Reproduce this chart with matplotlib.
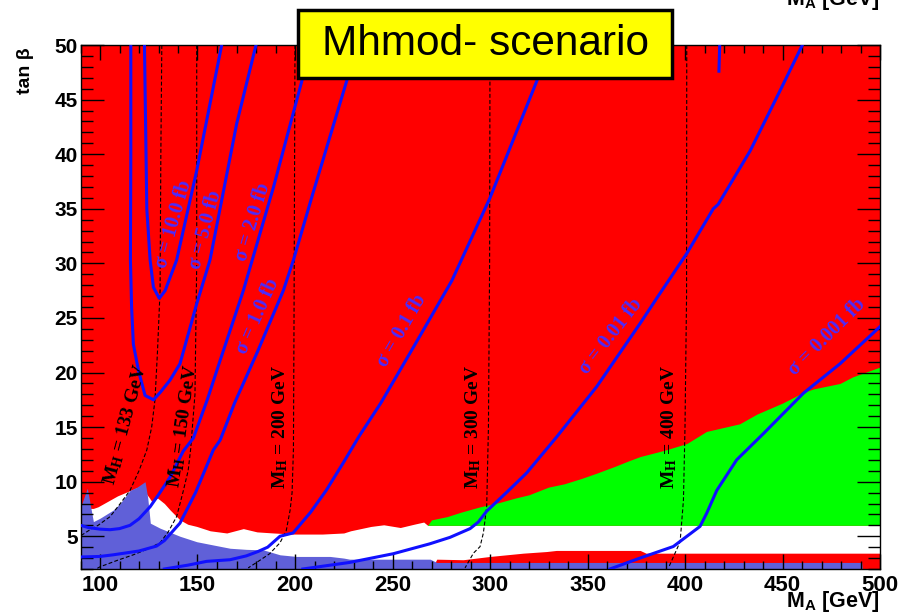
import matplotlib.pyplot as plt
from matplotlib.patches import Rectangle
from matplotlib.ticker import MultipleLocator

plt.rcParams['font.family'] = ['Liberation Sans', 'DejaVu Sans']
plt.rcParams['font.weight'] = 'bold'
plt.rcParams['mathtext.fontset'] = 'custom'
plt.rcParams['mathtext.rm'] = 'Liberation Serif:bold'
plt.rcParams['mathtext.sf'] = 'Liberation Sans:bold'

# --- excluded regions (upper edges, filled down to the axis bottom) ---
white_x = [90, 96.6, 99, 104, 109, 113, 117, 119.5, 122, 125, 126.5, 129.5, 133, 136, 141, 145,
           149.6, 156.5, 165, 173.5, 180.5, 189, 199, 214, 225, 228.5, 239, 245.5, 254, 261, 266, 268, 500]
white_y = [7.55, 7.55, 7.7, 8.2, 8.7, 9.0, 9.3, 9.5, 9.3, 8.6, 8.2, 8.5, 8.0, 7.4, 6.5, 6.1,
           5.9, 5.5, 5.3, 5.7, 5.4, 5.3, 5.2, 5.2, 5.3, 5.5, 5.9, 6.05, 5.8, 6.1, 6.3, 6.0, 6.0]

green_x = [268, 270, 278, 285, 295, 305, 313, 320, 330, 338, 347, 355, 364, 371, 377, 390, 401,
           411, 428, 437, 450, 461, 466, 479.5, 486, 500]
green_y = [6.0, 6.5, 6.8, 7.2, 7.7, 8.1, 8.5, 8.8, 9.5, 9.8, 10.3, 10.8, 11.4, 11.9, 12.3, 12.9, 13.5,
           14.6, 15.3, 16.2, 17.2, 18.2, 18.5, 19.0, 19.6, 20.5]
green_low = 6.0

red_low_x = [270, 272.7, 286.3, 300, 317, 329, 334, 377, 380, 500]
red_low_y = [2.0, 2.9, 2.85, 3.15, 3.45, 3.6, 3.7, 3.7, 3.45, 3.45]

blue_x = [90, 90.8, 93.5, 96.6, 100, 106.8, 110.3, 115.4, 119, 123.1, 124.5, 125.8, 130.8, 141,
          149.6, 158.1, 166.7, 175, 183.8, 192.3, 200.9, 218, 225, 228, 269.3, 272.7, 490.6, 491]
blue_y = [7.8, 8.05, 9.4, 6.34, 6.65, 7.4, 8.0, 9.2, 9.5, 10.0, 8.5, 6.2, 5.74, 5.0,
          4.5, 4.2, 3.9, 3.8, 3.75, 3.3, 3.15, 3.15, 3.0, 2.9, 2.9, 2.6, 2.6, 2.0]

# --- cross-section contours ---
sig_names = ['10.0', '5.0', '2.0', '1.0', '0.1', '0.01', '0.001']
sig_x = [
    [122.8, 123.2, 124.0, 125.7, 127.4, 130.4, 133.4, 139.3, 149.6, 162.4],
    [115.8, 115.8, 115.6, 116.2, 117.1, 119.7, 123.1, 127.4, 131, 135.9, 141, 149.6, 156.4, 170.1, 180],
    [90, 94, 100, 105.2, 110, 115.4, 120, 125.7, 130, 135.9, 142.7, 147.9, 155, 161.6, 167, 173.5,
     189, 203.5, 208.5],
    [90, 100, 106.8, 120, 129, 133, 136, 141, 149, 158.1, 161.6, 169, 181, 194, 199.2, 209, 226.5, 232],
    [133, 145, 154.7, 166.7, 175, 181, 186, 192.3, 199, 208, 216, 225, 233, 244, 261, 280.4, 300, 324, 331],
    [204, 228, 250.4, 269, 279.5, 289.8, 294, 298.3, 309, 318.8, 334.2, 354.7, 377, 385.5, 400.9,
     414.5, 417, 433.4, 448.7, 460.2],
    [361.5, 376.9, 394, 407.7, 411.1, 416.3, 426.5, 440.2, 460.7, 479.5, 500],
]
sig_y = [
    [50, 45, 35, 30.3, 27.8, 26.8, 27.5, 30.3, 38.5, 50],
    [50, 40, 30.3, 26, 22.6, 20.2, 17.9, 17.5, 18.2, 19.3, 20.8, 26.3, 30.3, 42.8, 50],
    [6.0, 5.8, 5.65, 5.6, 5.7, 6.0, 6.6, 7.7, 8.8, 10.4, 12.8, 14.0, 17.5, 21.1, 24, 27.5, 37, 46.7, 50],
    [3.1, 3.15, 3.3, 3.65, 4.1, 4.6, 5.2, 6.2, 9.0, 12.9, 13.8, 17.2, 22.0, 27.5, 30.3, 36.3, 46.7, 50],
    [2.0, 2.35, 2.7, 2.85, 3.2, 3.6, 4.0, 5.0, 5.3, 7.2, 9.2, 11.8, 14.2, 17.2, 22.4, 28.4, 36.0, 46.7, 50],
    [2.0, 2.6, 3.4, 4.3, 4.9, 5.7, 6.3, 7.3, 9.1, 10.8, 14.1, 18.7, 24.5, 26.8, 30.9, 35.0, 35.4,
     40.3, 45.8, 50],
    [2.0, 3.0, 4.06, 5.9, 7.1, 9.2, 12.0, 14.4, 18.1, 20.8, 24.2],
]
sig_lab_x = [137.6, 154.3, 178.6, 180.8, 254.7, 362, 472.7]
sig_lab_y = [33.55, 33.1, 33.8, 25.2, 23.8, 23.3, 23.25]
sig_lab_rot = [74, 75, 73, 66, 60, 52, 45]

# --- M_H iso-lines ---
mh_names = ['133', '150', '200', '300', '400']
mh_x = [
    [131.7, 131.2, 130.8, 129.5, 128.2, 126.5, 124, 120, 115.4, 110, 105.2, 99, 94.9, 90.6, 90],
    [149.6, 149.6, 148.7, 146.5, 145.2, 142.5, 139.3, 135, 130.8, 124, 117.1, 109, 100, 98],
    [200, 199.5, 199.2, 198.5, 197.5, 195.5, 192.3, 187, 182, 176],
    [300, 299.8, 299.2, 298.3, 296.6, 294.9, 291.5, 287.2],
    [400.9, 400.8, 400, 399.2, 397.5, 394.9, 391.5],
]
mh_y = [
    [50, 40, 27.5, 22, 17.5, 15, 12.9, 11, 9.2, 7.9, 6.8, 6.0, 5.6, 5.1, 4.95],
    [50, 30, 18, 13, 11, 9, 6.8, 5.4, 4.4, 3.8, 3.3, 2.8, 2.2, 2.0],
    [50, 25, 13, 9, 7.4, 5.5, 4.4, 3.4, 2.8, 2.1],
    [50, 30, 15, 7.7, 5.3, 4.05, 3.45, 2.1],
    [50, 27, 15, 8.3, 4.5, 3.45, 2.1],
]
mh_lab_x = [113.3, 142.6, 192.3, 291.5, 392]
mh_lab_y = [15.2, 15.1, 15.0, 15.0, 15.0]
mh_lab_rot = [75, 82, 90, 90, 90]

fig = plt.figure(figsize=(9.01, 6.16), dpi=100)
ax = fig.add_axes([80.5 / 901, 47 / 616, 799.5 / 901, 524 / 616])
ax.set_xlim(90, 500)
ax.set_ylim(2, 50)
ax.set_facecolor('#ff0000')
ax.set_axisbelow(False)

ax.fill_between(white_x, 2, white_y, color='white', lw=0, zorder=1)
ax.fill_between(green_x, green_low, green_y, color='#00ff00', lw=0, zorder=1.1)
ax.fill_between(red_low_x, 2, red_low_y, color='#ff0000', lw=0, zorder=1.2)
ax.fill_between(blue_x, 2, blue_y, color='#6060d8', lw=0, zorder=1.3)

for i in range(len(mh_names)):
    ax.plot(mh_x[i], mh_y[i], color='black', lw=0.8, dashes=(3.5, 2), zorder=2)
    ax.text(mh_lab_x[i], mh_lab_y[i], r'$\mathrm{M_H}$ = ' + mh_names[i] + ' GeV',
            family='Liberation Serif', weight='bold', fontsize=14, color='black',
            rotation=mh_lab_rot[i], rotation_mode='anchor', ha='center', va='center', zorder=4)

for i in range(len(sig_names)):
    ax.plot(sig_x[i], sig_y[i], color='#1010ff', lw=2.2, zorder=3, solid_joinstyle='round')
    ax.text(sig_lab_x[i], sig_lab_y[i], 'σ = ' + sig_names[i] + ' fb',
            family='Liberation Serif', weight='bold', fontsize=14.5, color='#4a2cff',
            rotation=sig_lab_rot[i], rotation_mode='anchor', ha='center', va='center', zorder=4)

# small stray contour piece at the top
ax.plot([417.8, 417.4], [50, 47.6], color='#1010ff', lw=2.2, zorder=3)

ax.xaxis.set_major_locator(MultipleLocator(50))
ax.xaxis.set_minor_locator(MultipleLocator(10))
ax.yaxis.set_major_locator(MultipleLocator(5))
ax.yaxis.set_minor_locator(MultipleLocator(1))
ax.tick_params(which='both', direction='in', top=True, right=True, color='black', width=1)
ax.tick_params(axis='x', which='major', length=10.5, pad=4, labelsize=16)
ax.tick_params(axis='x', which='minor', length=5.5)
ax.tick_params(axis='y', which='major', length=16.5, pad=2, labelsize=15)
ax.tick_params(axis='y', which='minor', length=8.5)
for sp in ax.spines.values():
    sp.set_color('black')
    sp.set_linewidth(1)

fig.text(25 / 901, 1 - 71 / 616, 'tan β', rotation=90, ha='center', va='center', fontsize=14)
fig.text(880 / 901, 1 - 607 / 616, r'$\mathsf{M_A}$ [GeV]', ha='right', va='baseline', fontsize=15.5)
fig.text(880 / 901, 1 - 4.5 / 616, r'$\mathsf{M_A}$ [GeV]', ha='right', va='baseline', fontsize=15.5)

box = Rectangle((298 / 901, 1 - 78 / 616), 374 / 901, 68 / 616, transform=fig.transFigure,
                facecolor='#ffff00', edgecolor='black', lw=2.5, zorder=5)
fig.add_artist(box)
fig.text(485 / 901, 1 - 44 / 616, 'Mhmod- scenario', ha='center', va='center', fontsize=30.5,
         weight='normal', zorder=6)

fig.savefig('out.png', dpi=100)
